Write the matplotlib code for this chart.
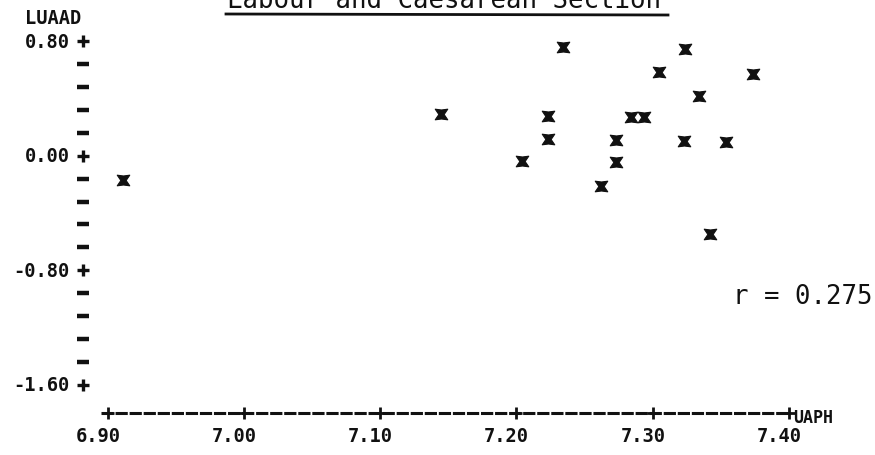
import matplotlib
matplotlib.use("Agg")
import matplotlib.pyplot as plt
from matplotlib.path import Path
from matplotlib.lines import Line2D
from matplotlib.transforms import offset_copy
import numpy as np

# Umbilical artery pH against log umbilical artery acid-base deficit
uaph = [6.911, 7.145, 7.234, 7.324, 7.305, 7.374, 7.334, 7.223, 7.284, 7.294,
        7.223, 7.273, 7.323, 7.354, 7.204, 7.273, 7.262, 7.342]
luaad = [-0.169, 0.292, 0.761, 0.747, 0.586, 0.572, 0.418, 0.278, 0.271, 0.271,
         0.117, 0.110, 0.103, 0.097, -0.036, -0.043, -0.211, -0.547]

x_ticks = [6.90, 7.00, 7.10, 7.20, 7.30, 7.40]
x_tick_labels = ["6.90", "7.00", "7.10", "7.20", "7.30", "7.40"]
y_ticks = [0.80, 0.00, -0.80, -1.60]
y_tick_labels = ["0.80", "0.00", "-0.80", "-1.60"]
y_minor_step = 0.16
x_label = "UAPH"
y_label = "LUAAD"
title = "Labour and Caesarean Section"
r_value = 0.275

W, H = 875, 456
fig = plt.figure(figsize=(W / 100, H / 100), dpi=100)
fig.patch.set_facecolor("white")
ax = fig.add_axes([0, 0, 1, 1])
ax.set_xlim(6.82085, 7.46329)
ax.set_ylim(-2.0923, 1.0965)
ax.axis("off")

ink = "#111111"
mono = "DejaVu Sans Mono"


def fx(px):
    return px / W


def fy(py):
    return 1 - py / H


# printer-style axes: the y axis is a column of '+' and '-' characters
y_col = x_ticks[0] - 0.018
minor = [v for v in np.arange(y_ticks[0], y_ticks[-1] - 1e-9, -y_minor_step)
         if min(abs(v - t) for t in y_ticks) > 1e-6]
ax.plot([y_col] * len(minor), minor, ls="none", marker="_", ms=8.5, mew=3.2,
        color=ink)
ax.plot([y_col] * len(y_ticks), y_ticks, ls="none", marker="+", ms=8.5,
        mew=2.4, color=ink)
lab_tr = offset_copy(ax.transData, fig=fig, x=-10, y=0, units="points")
for v, s in zip(y_ticks, y_tick_labels):
    ax.text(y_col, v, s, transform=lab_tr, ha="right", va="center",
            family=mono, weight="bold", fontsize=13.5, color=ink)

# x axis: dashed row with '+' at each labelled value
axis_y = y_ticks[-1] - 0.2
ax.plot([x_ticks[0] - 0.005, x_ticks[-1]], [axis_y, axis_y], color=ink,
        lw=2.2, ls=(0, (4.0, 0.6)), solid_capstyle="butt")
ax.plot(x_ticks, [axis_y] * len(x_ticks), ls="none", marker="+", ms=8.5,
        mew=2.0, color=ink)
xl_tr = offset_copy(ax.transData, fig=fig, x=-7, y=-16, units="points")
for v, s in zip(x_ticks, x_tick_labels):
    ax.text(v, axis_y, s, transform=xl_tr, ha="center", va="center",
            family=mono, weight="bold", fontsize=13.5, color=ink)

xn_tr = offset_copy(ax.transData, fig=fig, x=3, y=-3, units="points")
ax.text(x_ticks[-1], axis_y, x_label, transform=xn_tr, ha="left",
        va="center", family=mono, weight="bold", fontsize=12, color=ink)
fig.text(fx(25), fy(18.5), y_label, ha="left", va="center", family=mono,
         weight="bold", fontsize=13.5, color=ink)

# data points drawn with a bold printer 'x'
xmark = Path([(-1, 0.85), (0, 0.72), (1, 0.85), (0.42, 0), (1, -0.85),
              (0, -0.72), (-1, -0.85), (-0.42, 0), (-1, 0.85)],
             [Path.MOVETO] + [Path.LINETO] * 7 + [Path.CLOSEPOLY])
ax.plot(uaph, luaad, ls="none", marker=xmark, ms=9, mfc=ink, mec=ink,
        mew=0.8)

# title with underline, and correlation coefficient
fig.text(fx(227), fy(8), title, ha="left", va="baseline", family=mono,
         fontsize=18.5, color=ink)
fig.add_artist(Line2D([fx(226), fx(668)], [fy(15), fy(16)], color=ink,
                      lw=2.0))
fig.text(fx(733), fy(297), f"r = {r_value:.3f}", ha="left", va="center",
         family=mono, fontsize=18.5, color=ink)

fig.savefig("out.png", dpi=100, facecolor="white")
